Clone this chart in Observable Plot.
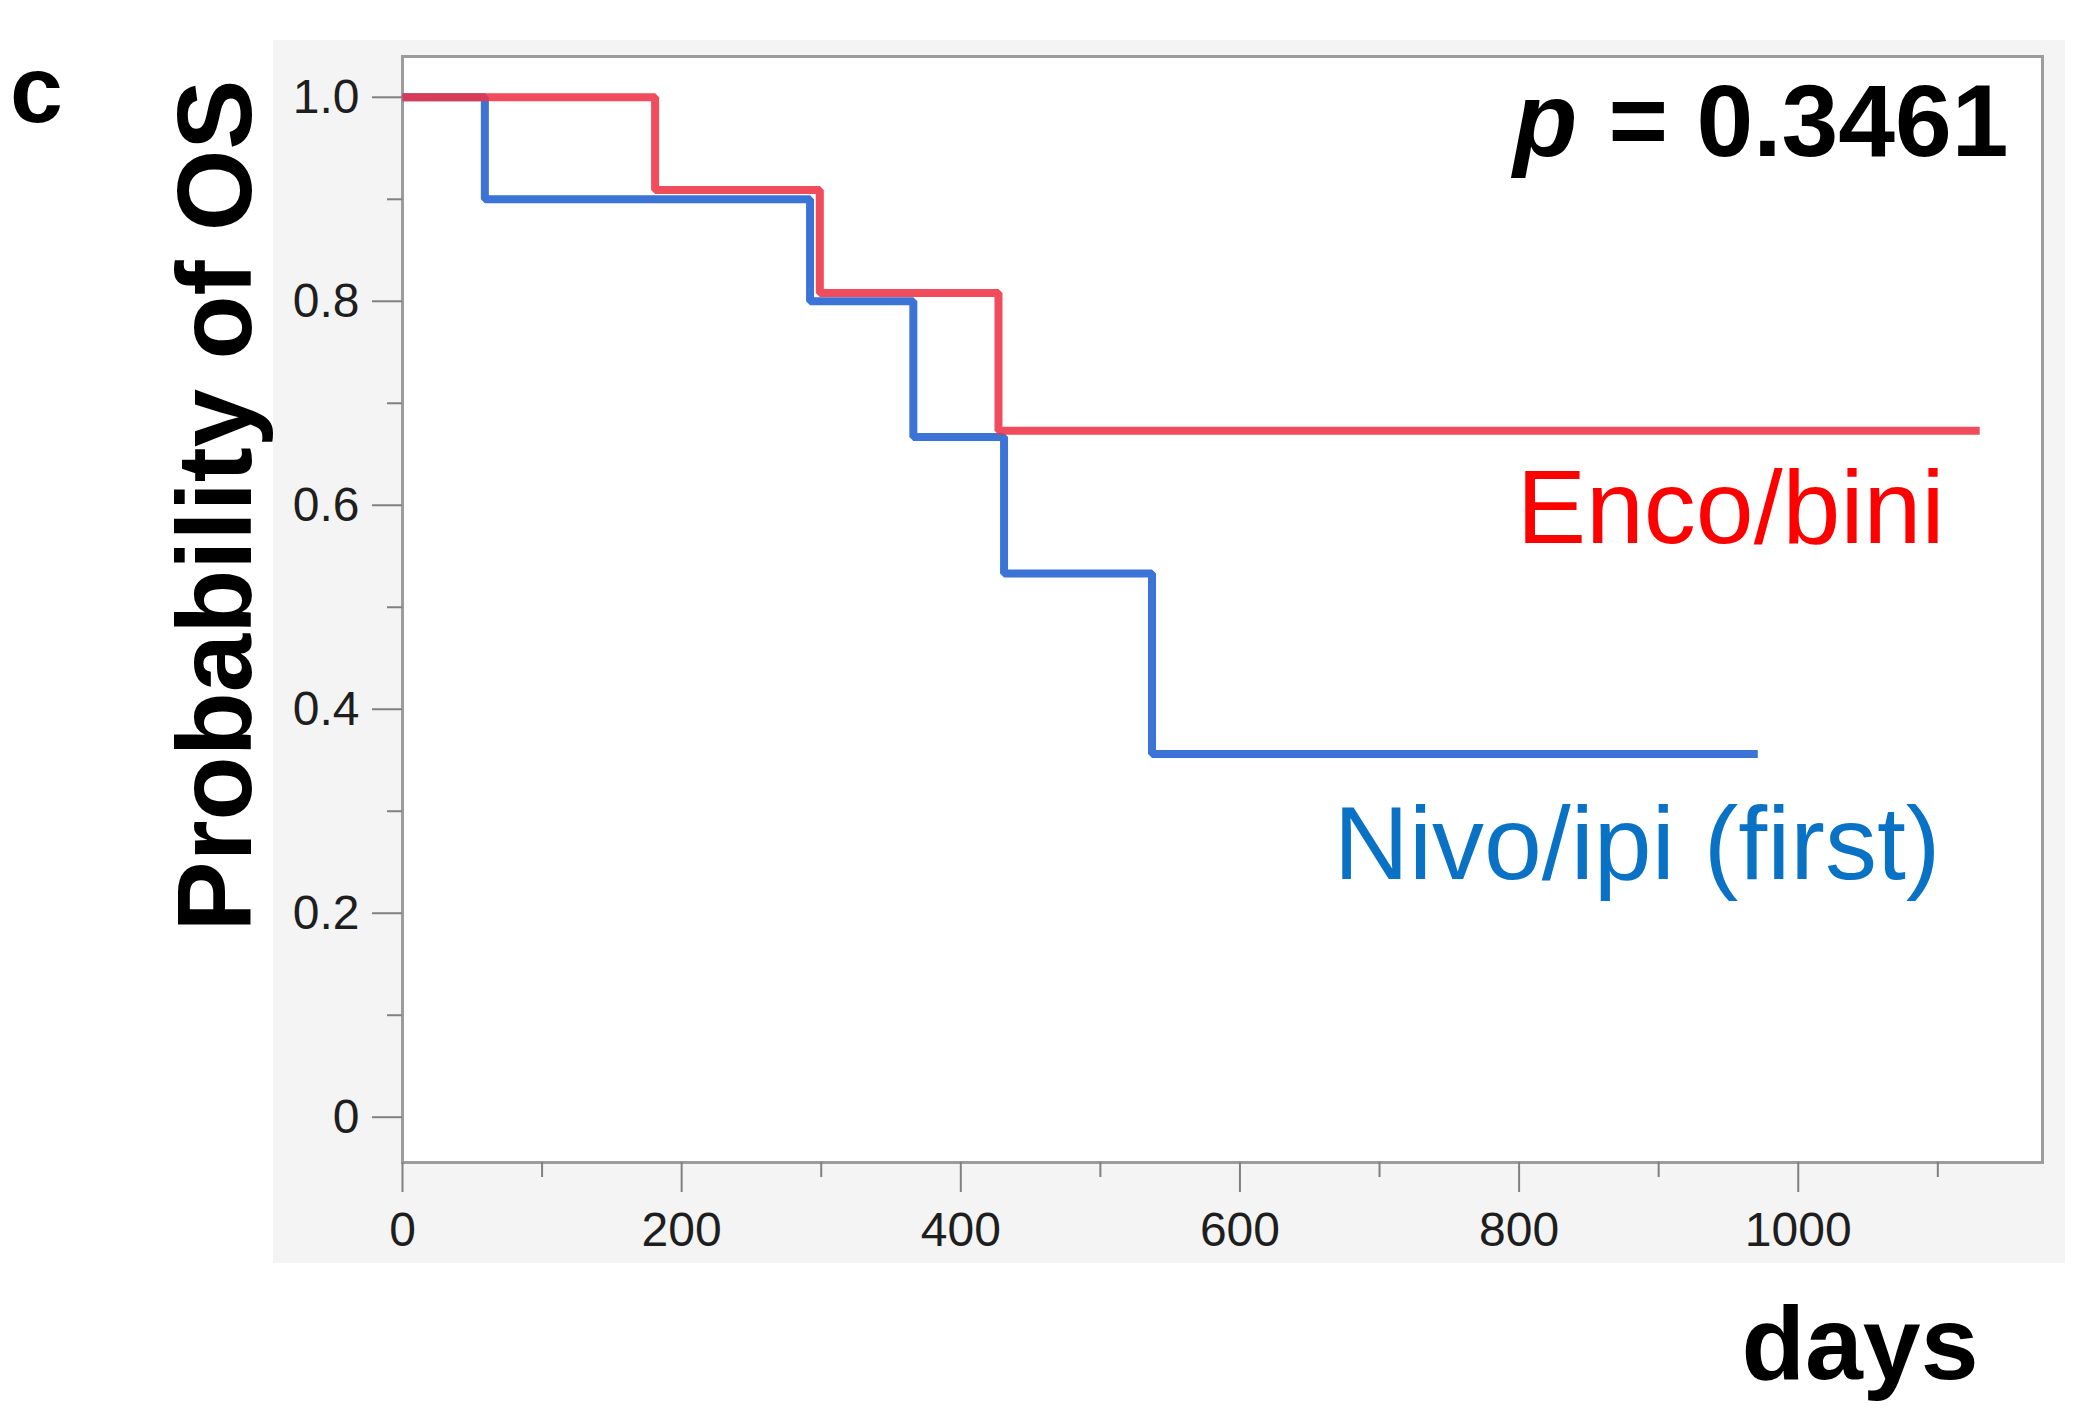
<!DOCTYPE html>
<html>
<head>
<meta charset="utf-8">
<script src="https://cdn.jsdelivr.net/npm/d3@7"></script>
<script src="https://cdn.jsdelivr.net/npm/@observablehq/plot@0.6"></script>
<style>
  html, body { margin: 0; padding: 0; background: white; }
  #wrap { position: relative; width: 2080px; height: 1422px; overflow: hidden; }
  #panel { position: absolute; left: 273px; top: 40px; width: 1792px; height: 1223px; background: #f4f4f4; }
  #chart { position: absolute; left: 0; top: 0; }
</style>
</head>
<body>
<div id="wrap"><div id="panel"></div><div id="chart"></div></div>
<script>
// Kaplan–Meier curves (days, survival probability)
const nivoDays = [0, 59, 292, 366, 431, 537, 971];
const nivoSurv = [1.0, 0.9, 0.8, 0.667, 0.533, 0.356, 0.356];
const encoDays = [0, 181, 299, 427, 1130];
const encoSurv = [1.0, 0.909, 0.808, 0.673, 0.673];

const groupNames = ["Nivo/ipi (first)", "Enco/bini"];
const groupColors = ["#3b73d6", "#ee3346"];
const labelColors = ["#0a72c4", "#ff0000"];

const xMajorTicks = [0, 200, 400, 600, 800, 1000];
const xMinorTicks = [100, 300, 500, 700, 900, 1100];
const yMajorTicks = [0, 0.2, 0.4, 0.6, 0.8, 1.0];
const yMajorLabels = ["0", "0.2", "0.4", "0.6", "0.8", "1.0"];
const yMinorTicks = [0.1, 0.3, 0.5, 0.7, 0.9];

const panelLetter = ["c"];
const yTitle = ["Probability of OS"];
const xTitle = ["days"];
const pSymbol = ["p"];
const pValue = ["= 0.3461"];

const nivo = nivoDays.map((d, i) => ({days: d, surv: nivoSurv[i], group: groupNames[0]}));
const enco = encoDays.map((d, i) => ({days: d, surv: encoSurv[i], group: groupNames[1]}));

const font = "'Liberation Sans', Arial, Helvetica, sans-serif";

const chart = Plot.plot({
  width: 2080,
  height: 1422,
  marginLeft: 402,
  marginRight: 38,
  marginTop: 56,
  marginBottom: 260,
  style: {background: "transparent", fontFamily: font},
  x: {domain: [0, 1175]},
  y: {domain: [-0.0444, 1.04]},
  marks: [
    Plot.frame({fill: "white", stroke: "#9c9c9c", strokeWidth: 3}),
    Plot.axisY(yMajorTicks, {tickSize: 30, tickPadding: 13, fontSize: 48, fill: "#1e1e1e", stroke: "#808080", strokeWidth: 2, label: null, tickFormat: (d, i) => yMajorLabels[i]}),
    Plot.axisY(yMinorTicks, {tickSize: 15, fontSize: 48, stroke: "#808080", strokeWidth: 2, label: null, tickFormat: () => ""}),
    Plot.axisX(xMajorTicks, {tickSize: 30, tickPadding: 19, fontSize: 48, fill: "#1e1e1e", stroke: "#808080", strokeWidth: 2, label: null, tickFormat: d => String(d)}),
    Plot.axisX(xMinorTicks, {tickSize: 15, fontSize: 48, stroke: "#808080", strokeWidth: 2, label: null, tickFormat: () => ""}),
    Plot.line(nivo, {x: "days", y: "surv", curve: "step-after", stroke: groupColors[0], strokeWidth: 8, strokeLinejoin: "miter", strokeLinecap: "butt"}),
    Plot.line(enco, {x: "days", y: "surv", curve: "step-after", stroke: groupColors[1], strokeWidth: 8, strokeOpacity: 0.88, strokeLinejoin: "miter", strokeLinecap: "butt"}),
    // group labels
    Plot.text([groupNames[1]], {text: d => d, frameAnchor: "top-right", textAnchor: "end", lineAnchor: "bottom", dx: -98, dy: 486, fontSize: 104, fill: labelColors[1]}),
    Plot.text([groupNames[0]], {text: d => d, frameAnchor: "top-right", textAnchor: "end", lineAnchor: "bottom", dx: -102, dy: 822, fontSize: 104, fill: labelColors[0]}),
    // p-value
    Plot.text(pSymbol, {text: d => d, frameAnchor: "top-right", textAnchor: "end", lineAnchor: "bottom", dx: -465, dy: 99, fontSize: 105, fontWeight: "bold", fontStyle: "italic", fill: "black"}),
    Plot.text(pValue, {text: d => d, frameAnchor: "top-right", textAnchor: "end", lineAnchor: "bottom", dx: -34, dy: 99, fontSize: 102, fontWeight: "bold", fill: "black"}),
    // axis titles
    Plot.text(yTitle, {text: d => d, frameAnchor: "left", rotate: -90, textAnchor: "middle", lineAnchor: "bottom", dx: -152, dy: -104, fontSize: 105, fontWeight: "bold", fill: "black"}),
    Plot.text(xTitle, {text: d => d, frameAnchor: "bottom-right", textAnchor: "end", lineAnchor: "bottom", dx: -64, dy: 216, fontSize: 104, fontWeight: "bold", fill: "black"}),
    // panel letter
    Plot.text(panelLetter, {text: d => d, frameAnchor: "top-left", textAnchor: "middle", lineAnchor: "bottom", dx: -366, dy: 65, fontSize: 95, fontWeight: "bold", fill: "black"})
  ]
});
document.getElementById("chart").appendChild(chart);
</script>
</body>
</html>
